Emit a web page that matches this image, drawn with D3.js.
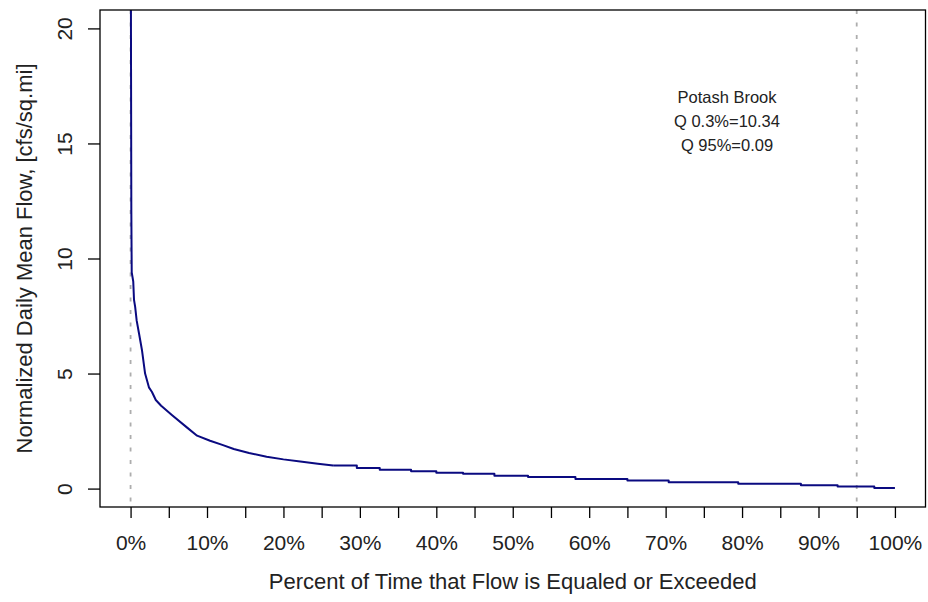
<!DOCTYPE html>
<html>
<head>
<meta charset="utf-8">
<script src="https://cdn.jsdelivr.net/npm/d3@7"></script>
<style>
  html, body { margin: 0; padding: 0; background: #fff; }
  svg { display: block; font-family: "Liberation Sans", Arial, Helvetica, sans-serif; }
</style>
</head>
<body>
<svg id="chart" width="928" height="602"></svg>
<script>
// ---- data ----
// steep upper part of the duration curve
const steepPct = [0, 0.05, 0.1, 0.15, 0.35, 0.45, 0.6, 0.8, 1.1, 1.5, 1.9, 2.4, 2.8, 3.3, 4.0, 5.4, 7.4, 8.7, 10.4, 12, 13.5, 15.5, 17.8, 20, 22.2, 24.5, 26.5];
const steepFlow = [40, 20, 12, 9.4, 9.0, 8.2, 7.9, 7.3, 6.75, 6.0, 5.0, 4.4, 4.2, 3.85, 3.6, 3.2, 2.65, 2.3, 2.08, 1.9, 1.72, 1.55, 1.38, 1.27, 1.18, 1.08, 1.0];
// stepped low-flow part
const flatPct = [26.5, 29.6, 32.6, 36.7, 40, 43.5, 47.6, 52, 58.2, 65, 70.4, 79.5, 87.7, 92.5, 97.3, 100];
const flatFlow = [1.0, 0.9, 0.82, 0.75, 0.69, 0.64, 0.56, 0.5, 0.42, 0.35, 0.28, 0.21, 0.14, 0.09, 0.03, 0.03];
const xTickValues = [0, 5, 10, 15, 20, 25, 30, 35, 40, 45, 50, 55, 60, 65, 70, 75, 80, 85, 90, 95, 100];
const xLabelValues = [0, 10, 20, 30, 40, 50, 60, 70, 80, 90, 100];
const yTickValues = [0, 5, 10, 15, 20];
const refLines = [0, 95];
const annotation = ["Potash Brook", "Q 0.3%=10.34", "Q 95%=0.09"];
const xTitle = "Percent of Time that Flow is Equaled or Exceeded";
const yTitle = "Normalized Daily Mean Flow, [cfs/sq.mi]";

const svg = d3.select("#chart");
const L = 100, R = 925.5, T = 10, B = 507;

const x = d3.scaleLinear().domain([-4, 104]).range([L, R]);
const y = d3.scaleLinear().domain([-0.8, 20.8]).range([B, T]);

svg.append("defs").append("clipPath").attr("id", "clip")
  .append("rect").attr("x", L).attr("y", T).attr("width", R - L).attr("height", B - T);

// reference dotted lines
svg.append("g").selectAll("line").data(refLines).join("line")
  .attr("x1", d => x(d)).attr("x2", d => x(d))
  .attr("y1", T).attr("y2", B)
  .attr("stroke", "#adadad").attr("stroke-width", 1.8)
  .attr("stroke-dasharray", "4,8.5");

// flow duration curve
const steepPts = steepPct.map((p, i) => [p, steepFlow[i]]);
const flatPts = flatPct.map((p, i) => [p, flatFlow[i]]);
const lineLin = d3.line().x(d => x(d[0])).y(d => y(d[1]));
const lineStep = d3.line().x(d => x(d[0])).y(d => y(d[1])).curve(d3.curveStepAfter);
const g = svg.append("g").attr("clip-path", "url(#clip)")
  .attr("fill", "none").attr("stroke", "#0a0a80").attr("stroke-width", 2)
  .attr("stroke-linejoin", "round");
g.append("path").datum(steepPts).attr("d", lineLin);
g.append("path").datum(flatPts).attr("d", lineStep);

// box
svg.append("rect").attr("x", L).attr("y", T).attr("width", R - L).attr("height", B - T)
  .attr("fill", "none").attr("stroke", "#000").attr("stroke-width", 1.3);

// x axis
const xAxis = d3.axisBottom(x).tickValues(xTickValues).tickSize(11).tickSizeOuter(0)
  .tickFormat(d => xLabelValues.includes(d) ? d + "%" : "");
const gx = svg.append("g").attr("transform", `translate(0,${B})`).call(xAxis);
gx.select(".domain").remove();
gx.selectAll(".tick line").attr("stroke", "#000").attr("stroke-width", 1.3);
gx.selectAll(".tick text").attr("font-size", 21).attr("fill", "#222")
  .attr("dy", null).attr("y", 43);

// y axis
const yAxis = d3.axisLeft(y).tickValues(yTickValues).tickSize(12).tickSizeOuter(0);
const gy = svg.append("g").attr("transform", `translate(${L},0)`).call(yAxis);
gy.select(".domain").remove();
gy.selectAll(".tick line").attr("stroke", "#000").attr("stroke-width", 1.3);
gy.selectAll(".tick text").attr("font-size", 21).attr("fill", "#222")
  .attr("x", null).attr("dy", null)
  .attr("text-anchor", "middle")
  .attr("transform", "translate(-28,0) rotate(-90)");

// titles
svg.append("text").attr("x", (L + R) / 2).attr("y", 589)
  .attr("text-anchor", "middle").attr("font-size", 22).attr("fill", "#222").text(xTitle);
svg.append("text").attr("transform", `translate(32,${(T + B) / 2}) rotate(-90)`)
  .attr("text-anchor", "middle").attr("font-size", 22).attr("fill", "#222").text(yTitle);

// annotation
svg.append("g").selectAll("text").data(annotation).join("text")
  .attr("x", 727).attr("y", (d, i) => 103 + i * 24)
  .attr("text-anchor", "middle").attr("font-size", 16.5).attr("fill", "#222")
  .text(d => d);
</script>
</body>
</html>
